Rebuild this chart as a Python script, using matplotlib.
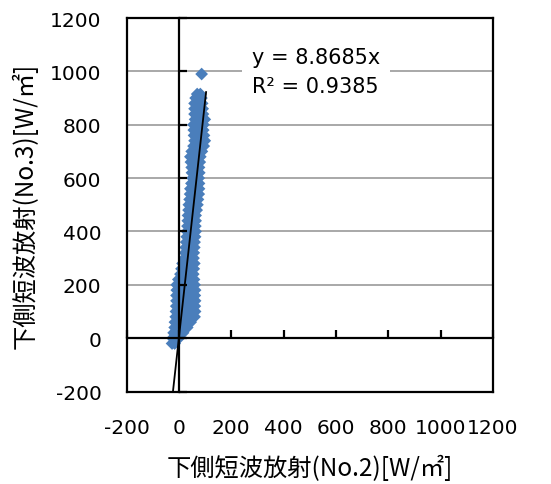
import numpy as np
import matplotlib.pyplot as plt

# scatter band: y level -> x values
row_y = [-20, 0, 20, 40, 60, 80, 100, 120, 140, 160, 180, 200, 220, 240, 260,
         280, 300, 320, 340, 360, 380, 400, 420, 440, 460, 480, 500, 520, 540,
         560, 580, 600, 620, 640, 660, 680, 700, 720, 740, 760, 780, 800, 820,
         840, 860, 880, 900, 915]
row_x = [
    [-26, -16],
    [-24, -12, 0],
    [-20, -8, 4, 16],
    [-16, -4, 8, 20, 32],
    [-15, -3, 9, 21, 33, 45],
    [-12, 0, 12, 24, 36, 48, 60],
    [-11, 1, 13, 25, 37, 49, 62],
    [-10, 2, 14, 26, 38, 50, 61],
    [-9, 3, 15, 27, 39, 51, 62],
    [-9, 3, 15, 27, 39, 51, 61],
    [-8, 4, 16, 28, 40, 52, 62],
    [-8, 4, 16, 28, 40, 52, 60],
    [-2, 10, 22, 34, 46, 58],
    [6, 18, 30, 42, 55],
    [10, 22, 34, 46, 57],
    [14, 26, 38, 50, 59],
    [22, 34, 46, 56],
    [24, 36, 48, 57],
    [26, 38, 50, 59],
    [28, 40, 52, 60],
    [30, 42, 54, 62],
    [31, 43, 55, 64],
    [33, 45, 57, 63],
    [34, 46, 58, 64],
    [35, 47, 59, 64],
    [37, 49, 61, 68],
    [38, 50, 62, 71],
    [41, 53, 65, 73],
    [43, 55, 67, 76],
    [44, 56, 68, 77],
    [48, 60, 72, 77],
    [52, 64, 76],
    [50, 62, 74, 78],
    [49, 61, 73, 77],
    [46, 58, 70, 80],
    [44, 56, 68, 82],
    [49, 61, 73, 88],
    [56, 68, 80, 95],
    [60, 72, 84, 99],
    [58, 70, 82, 96],
    [57, 69, 81, 93],
    [56, 68, 80, 94],
    [62, 74, 86, 99],
    [60, 72, 84, 92],
    [60, 72, 84, 91],
    [60, 72, 84, 89],
    [64, 76, 86],
    [70, 82],
]
outlier_x = [87]
outlier_y = [990]

slope = 8.8685
r2 = 0.9385
trend_x = [-30, 104]

ticks = [-200, 0, 200, 400, 600, 800, 1000, 1200]

xs = [x for r, xr in zip(row_y, row_x) for x in xr] + outlier_x
ys = [r for r, xr in zip(row_y, row_x) for x in xr] + outlier_y

jp = ['Noto Sans CJK JP', 'DejaVu Sans']
blue = '#4A7EBB'

fig = plt.figure(figsize=(5.51, 4.85), dpi=100)
ax = fig.add_axes([0.2296, 0.1907, 0.6651, 0.7701])
ax.set_xlim(-200, 1200)
ax.set_ylim(-200, 1200)
ax.set_xticks(ticks)
ax.set_yticks(ticks)
ax.set_xticklabels([str(t) for t in ticks], fontsize=14.5)
ax.set_yticklabels([str(t) for t in ticks], fontsize=14.5)
ax.tick_params(axis='x', length=0, pad=19)
ax.tick_params(axis='y', length=0, pad=18)
for s in ax.spines.values():
    s.set_linewidth(1.6)
    s.set_color('black')

for t in ticks[2:-1]:
    ax.axhline(t, color='#999999', lw=1.2, zorder=0)

ax.scatter(xs, ys, marker='D', s=42, color=blue, edgecolors='none', zorder=2)
tx = np.array(trend_x)
ax.plot(tx, slope * tx, color='black', lw=1.3, zorder=3)

ax.text(278, 1000, f'y = {slope}x\nR² = {r2}', fontsize=15, ha='left', va='center',
        linespacing=1.6, zorder=1,
        bbox=dict(facecolor='white', edgecolor='none', pad=7))

# axis lines through zero with inward ticks
ax2 = fig.add_axes(ax.get_position(), frameon=True)
ax2.patch.set_visible(False)
ax2.set_xlim(-200, 1200)
ax2.set_ylim(-200, 1200)
ax2.set_xticks(ticks)
ax2.set_yticks(ticks)
ax2.spines['left'].set_position(('data', 0))
ax2.spines['bottom'].set_position(('data', 0))
ax2.spines['top'].set_visible(False)
ax2.spines['right'].set_visible(False)
ax2.spines['left'].set_linewidth(1.6)
ax2.spines['bottom'].set_linewidth(1.6)
ax2.tick_params(direction='in', length=5.5, width=1.6, labelleft=False, labelbottom=False)

ax.set_xlabel('下側短波放射(No.2)[W/㎡]', fontsize=17.5, family=jp, labelpad=13)
ax.set_ylabel('下側短波放射(No.3)[W/㎡]', fontsize=17.5, family=jp, labelpad=8)

fig.savefig('out.png', dpi=100)
